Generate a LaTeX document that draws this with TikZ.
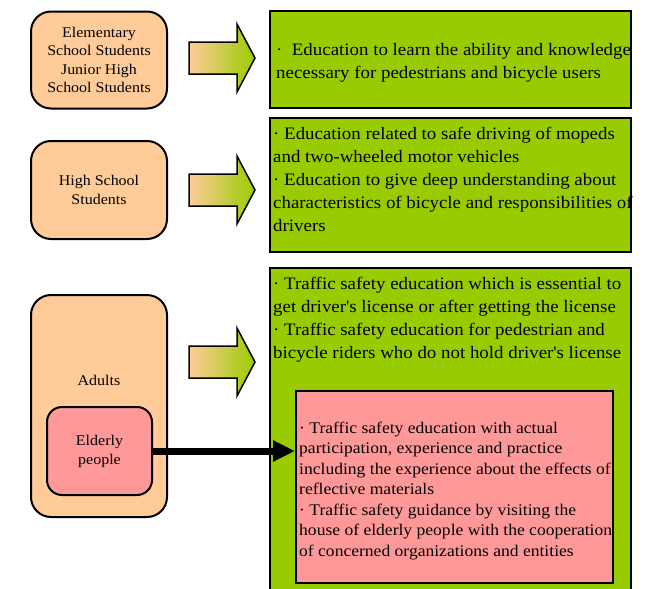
\documentclass[tikz,border=0pt]{standalone}
\usepackage{fontspec}
\setmainfont{Liberation Serif}
\newfontfamily\widefont[FakeStretch=1.08]{Liberation Serif}
\usetikzlibrary{arrows.meta}
\definecolor{peach}{HTML}{FFCC99}
\definecolor{lime}{HTML}{99CC00}
\definecolor{rose}{HTML}{FF9999}
\newcommand{\apos}{\textquotesingle}
\begin{document}
\begin{tikzpicture}[x=1pt,y=-1pt,
  grp/.style={draw=black, line width=2pt, fill=peach, rounded corners=20pt, inner sep=0pt, align=center,
    font=\widefont\fontsize{14.8}{18.3}\selectfont},
  elder/.style={draw=black, line width=2pt, fill=rose, rounded corners=15pt, inner sep=0pt, align=center,
    font=\widefont\fontsize{14.8}{19}\selectfont},
  edu/.style={draw=black, line width=2pt, fill=lime, inner sep=0pt},
  sub/.style={draw=black, line width=2pt, fill=rose, inner sep=0pt},
  edutext/.style={anchor=north west, align=left, inner sep=0pt, font=\widefont\fontsize{17.5}{23}\selectfont},
  subtext/.style={anchor=north west, align=left, inner sep=0pt, font=\widefont\fontsize{16.25}{20.5}\selectfont},
  blockarrow/.style={draw=black, line width=1.5pt, left color=peach, right color=lime},
  thick arrow/.style={line width=7pt, -{Triangle[length=22pt,width=20pt]}}
]
\useasboundingbox (0,0) rectangle (664,589);

% left groups
\node[grp, minimum width=136pt, minimum height=97pt] (elem) at (99,60)
  {Elementary\\School Students\\Junior High\\School Students};
\node[grp, minimum width=136pt, minimum height=98pt] (high) at (99,190)
  {High School\\Students};
\node[grp, minimum width=136pt, minimum height=222pt] (adult) at (99,406) {};
\node[font=\widefont\fontsize{14.8}{18}\selectfont] (adultlabel) at (99,380) {Adults};
\node[elder, minimum width=105pt, minimum height=88pt] (elderly) at (99.5,451)
  {Elderly\\people};

% right education boxes
\node[edu, minimum width=361pt, minimum height=97pt] (edu1) at (450.5,59.5) {};
\node[edu, minimum width=361pt, minimum height=134pt] (edu2) at (450.5,185) {};
\node[edu, minimum width=361pt, minimum height=330pt] (edu3) at (450.5,433) {};
\node[sub, minimum width=317pt, minimum height=192pt] (elderedu) at (454.5,487) {};

\node[edutext] (t1) at (276,43.5)
  {·\ \ Education to learn the ability and knowledge\\necessary for pedestrians and bicycle users};
\node[edutext] (t2) at (273,126.5)
  {· Education related to safe driving of mopeds\\and two-wheeled motor vehicles\\· Education to give deep understanding about\\characteristics of bicycle and responsibilities of\\drivers};
\node[edutext] (t3) at (273,276.5)
  {· Traffic safety education which is essential to\\get driver\apos s license or after getting the license\\· Traffic safety education for pedestrian and\\bicycle riders who do not hold driver\apos s license};
\node[subtext] (t4) at (299,421.5)
  {· Traffic safety education with actual\\participation, experience and practice\\including the experience about the effects of\\reflective materials\\· Traffic safety guidance by visiting the\\house of elderly people with the cooperation\\of concerned organizations and entities};

% block arrows
\foreach \n/\c in {a1/58, a2/190, a3/362}{
  \coordinate (\n) at (189,\c);
  \draw[blockarrow] (\n) ++(0,-16) -- ++(48,0) -- ++(0,-18) -- ++(18,34) -- ++(-18,34) -- ++(0,-18) -- ++(-48,0) -- cycle;
}

% elderly arrow
\draw[thick arrow] (elderly.east) -- (elderly.east -| elderedu.west);
\end{tikzpicture}
\end{document}
